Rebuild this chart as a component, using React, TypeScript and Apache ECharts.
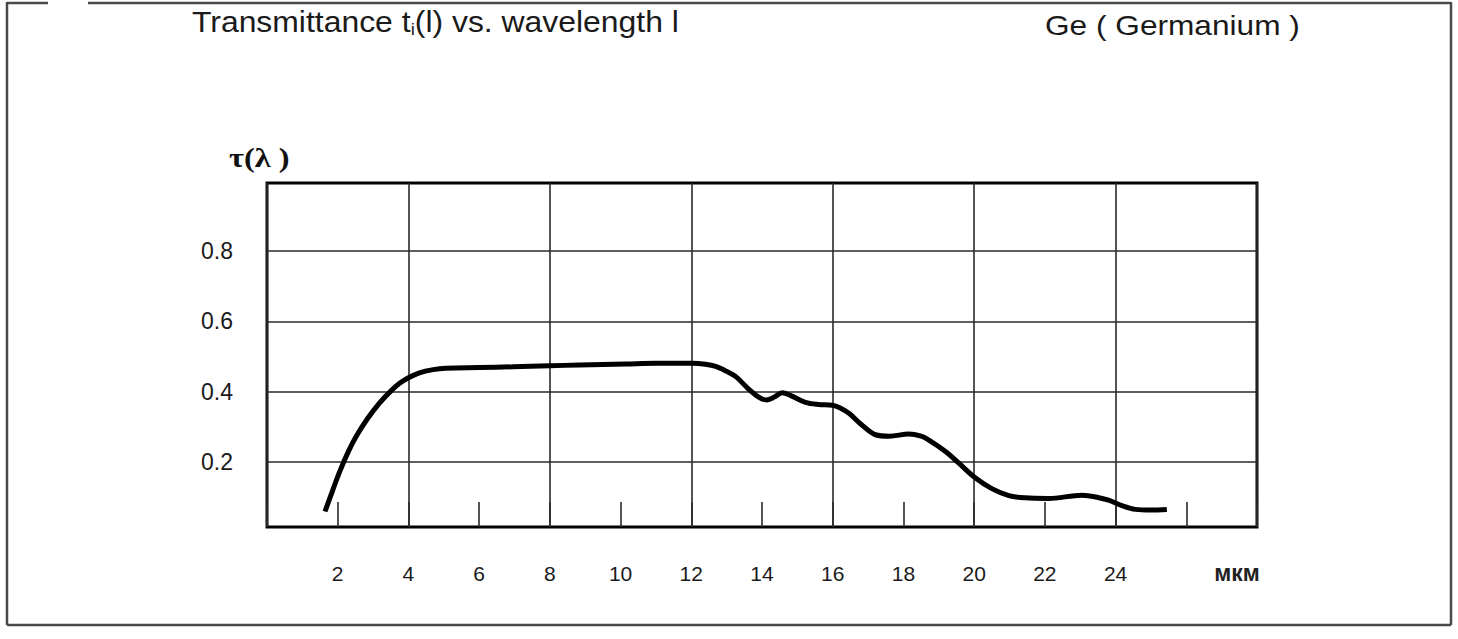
import React, { useEffect, useRef } from "react";
import * as echarts from "echarts";

// Wavelength (мкм) and transmittance
const wavelength = [
  1.64, 1.85, 2.05, 2.3, 2.52, 2.85, 3.18, 3.5, 3.75, 4.0, 4.31, 4.7, 5.06, 6.0, 6.94, 8.0, 8.83,
  10.15, 11.0, 12.03, 12.4, 12.69, 13.0, 13.26, 13.6, 13.92, 14.12, 14.35, 14.57, 14.8, 15.23,
  15.6, 15.99, 16.2, 16.46, 16.8, 17.21, 17.6, 18.15, 18.5, 18.72, 19.2, 19.56, 20.04, 20.5,
  20.98, 21.3, 22.1, 23.05, 23.5, 23.8, 24.2, 24.56, 25.0, 25.45,
];
const transmittance = [
  0.06, 0.118, 0.172, 0.23, 0.273, 0.325, 0.368, 0.402, 0.424, 0.44, 0.454, 0.463, 0.467, 0.469,
  0.471, 0.474, 0.476, 0.479, 0.481, 0.481, 0.478, 0.472, 0.458, 0.443, 0.41, 0.384, 0.377, 0.385,
  0.397, 0.39, 0.37, 0.364, 0.362, 0.355, 0.339, 0.308, 0.278, 0.274, 0.28, 0.274, 0.263, 0.23,
  0.198, 0.155, 0.125, 0.105, 0.1, 0.097, 0.106, 0.1, 0.092, 0.076, 0.066, 0.064, 0.066,
];

const xTickLabels = ["2", "4", "6", "8", "10", "12", "14", "16", "18", "20", "22", "24"];
const yGridValues = [0.2, 0.4, 0.6, 0.8];
const yTickLabels = ["0.2", "0.4", "0.6", "0.8"];

const titleText = "Transmittance t";
const titleSub = "i";
const titleRest = "(l) vs. wavelength l";
const materialText = "Ge ( Germanium )";
const yName = "τ(λ )";
const xUnit = "мкм";

export default function App() {
  const ref = useRef<HTMLDivElement>(null);

  useEffect(() => {
    if (!ref.current) return;
    const chart = echarts.init(ref.current, null, { renderer: "svg" });
    const lineData = wavelength.map((x, i) => [x, transmittance[i]]);
    const frame = { stroke: "#4a4a4a", lineWidth: 2.5 };

    chart.setOption({
      animation: false,
      backgroundColor: "#ffffff",
      grid: {
        left: 267,
        right: 201,
        top: 183,
        bottom: 112,
        show: true,
        borderColor: "#000",
        borderWidth: 3,
        backgroundColor: "transparent",
      },
      xAxis: [
        {
          type: "value",
          min: 0,
          max: 28,
          interval: 4,
          axisLine: { show: false },
          axisTick: { show: false },
          axisLabel: { show: false },
          splitLine: { show: true, lineStyle: { color: "#2a2a2a", width: 1.6 } },
        },
        {
          type: "value",
          min: 0,
          max: 28,
          interval: 2,
          position: "bottom",
          axisLine: { show: false },
          axisTick: { show: true, inside: true, length: 25, lineStyle: { color: "#2a2a2a", width: 1.6 } },
          axisLabel: {
            show: true,
            margin: 36,
            fontFamily: "Liberation Sans",
            fontSize: 21,
            color: "#1a1a1a",
            formatter: (v: number) => (xTickLabels.includes(String(v)) ? String(v) : ""),
          },
          splitLine: { show: false },
        },
      ],
      yAxis: {
        type: "value",
        min: 0.016,
        max: 0.993,
        axisLine: { show: false },
        axisTick: { show: false },
        axisLabel: { show: false },
        splitLine: { show: false },
      },
      series: [
        {
          type: "line",
          xAxisIndex: 0,
          data: [],
          z: 1,
          markLine: {
            silent: true,
            symbol: ["none", "none"],
            lineStyle: { color: "#2a2a2a", width: 1.6, type: "solid" },
            label: {
              show: true,
              position: "start",
              distance: 34,
              fontFamily: "Liberation Sans",
              fontSize: 23,
              color: "#1a1a1a",
              formatter: (p: any) => yTickLabels[yGridValues.indexOf(p.value)] ?? "",
            },
            data: yGridValues.map((v) => ({ yAxis: v })),
          },
        },
        {
          type: "line",
          xAxisIndex: 0,
          data: lineData,
          smooth: 0.35,
          symbol: "none",
          z: 5,
          lineStyle: { color: "#000", width: 5 },
        },
      ],
      graphic: [
        { type: "line", shape: { x1: 7, y1: 2, x2: 7, y2: 625 }, style: frame },
        { type: "line", shape: { x1: 7, y1: 3, x2: 48, y2: 3 }, style: frame },
        { type: "line", shape: { x1: 88, y1: 3, x2: 1451, y2: 3 }, style: frame },
        { type: "line", shape: { x1: 1451, y1: 2, x2: 1451, y2: 625 }, style: frame },
        { type: "line", shape: { x1: 7, y1: 625, x2: 1451, y2: 625 }, style: frame },
        {
          type: "text",
          x: 192,
          y: 22,
          scaleX: 1.1,
          style: {
            text: `{a|${titleText}}{s|${titleSub}}{a|${titleRest}}`,
            verticalAlign: "middle",
            rich: {
              a: { fontFamily: "Liberation Sans", fontSize: 29, fill: "#1a1a1a", lineHeight: 34 },
              s: { fontFamily: "Liberation Sans", fontSize: 17, fill: "#1a1a1a", lineHeight: 34, padding: [14, 0, 0, 0] },
            },
          },
        },
        {
          type: "text",
          x: 1045,
          y: 25,
          scaleX: 1.13,
          style: {
            text: materialText,
            fontFamily: "Liberation Sans",
            fontSize: 28,
            fill: "#1a1a1a",
            verticalAlign: "middle",
          },
        },
        {
          type: "text",
          x: 229,
          y: 157,
          scaleX: 1.2,
          style: {
            text: yName,
            fontFamily: "Liberation Serif",
            fontWeight: "bold",
            fontSize: 27,
            fill: "#111",
            verticalAlign: "middle",
          },
        },
        {
          type: "text",
          x: 1237,
          y: 573,
          style: {
            text: xUnit,
            fontFamily: "Liberation Sans",
            fontWeight: "bold",
            fontSize: 23,
            fill: "#222",
            align: "center",
            verticalAlign: "middle",
          },
        },
      ],
    });
    return () => chart.dispose();
  }, []);

  return (
    <div
      ref={ref}
      style={{ position: "fixed", left: 0, top: 0, width: 1458, height: 639, background: "#fff" }}
    />
  );
}
